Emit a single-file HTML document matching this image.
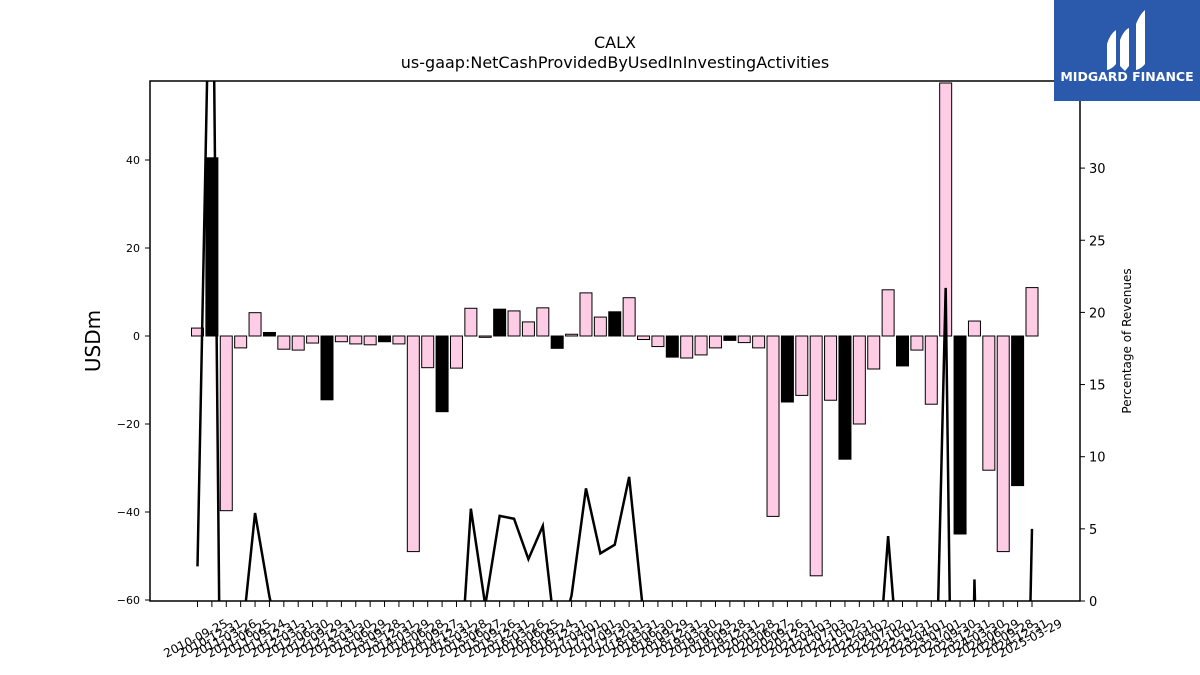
<!DOCTYPE html>
<html><head><meta charset="utf-8"><style>
html,body{margin:0;background:#fff;overflow:hidden;width:1200px;height:675px;}
svg{display:block;}
svg text{font-family:"DejaVu Sans","Liberation Sans",sans-serif;}
</style></head><body>
<svg id="chart" width="1200" height="675" viewBox="0 0 1200 675" xmlns="http://www.w3.org/2000/svg">
<rect width="1200" height="675" fill="#fff"/>
<text x="615" y="48" text-anchor="middle" font-size="16">CALX</text>
<text x="615" y="68" text-anchor="middle" font-size="16">us-gaap:NetCashProvidedByUsedInInvestingActivities</text>
<text transform="translate(100,341) rotate(-90)" text-anchor="middle" font-size="20">USDm</text>
<text transform="translate(1131,341) rotate(-90)" text-anchor="middle" font-size="12">Percentage of Revenues</text>
<defs><clipPath id="pc"><rect x="150" y="81" width="930" height="520"/></clipPath></defs>
<g id="bars" clip-path="url(#pc)"></g>
<g id="line" clip-path="url(#pc)"></g>
<g id="axes"></g>
<g>
<rect x="1054" y="0" width="146" height="101" fill="#2b5aad"/>
<path d="M1107 44 q3-10 9-14 v34 q-4 5-9 6z M1120 40 q4-10 9-12 v38 l-4 5 -5-5z M1136 24 q4-10 9-14 v54 q-4 5-9 6z" fill="#fff"/>
<text x="1127" y="81" text-anchor="middle" font-size="12.5" font-weight="bold" fill="#fff">MIDGARD FINANCE</text>
</g>
</svg>
<script>
const dates=["2010-09-25","2010-12-31","2011-03-26","2011-06-25","2011-09-24","2011-12-31","2012-03-31","2012-06-30","2012-09-29","2012-12-31","2013-03-30","2013-06-29","2013-09-28","2013-12-31","2014-03-29","2014-06-28","2014-09-27","2014-12-31","2015-03-28","2015-06-27","2015-09-26","2015-12-31","2016-03-26","2016-06-25","2016-09-24","2016-12-31","2017-04-01","2017-07-01","2017-09-30","2017-12-31","2018-03-31","2018-06-30","2018-09-29","2018-12-31","2019-03-30","2019-06-29","2019-09-28","2019-12-31","2020-03-28","2020-06-27","2020-09-26","2020-12-31","2021-04-03","2021-07-03","2021-10-02","2021-12-31","2022-04-02","2022-07-02","2022-10-01","2022-12-31","2023-04-01","2023-07-01","2023-09-30","2023-12-31","2024-03-30","2024-06-29","2024-09-28","2024-12-31","2025-03-29"];
const values=[1.8,40.5,-39.7,-2.7,5.3,0.8,-3,-3.2,-1.6,-14.5,-1.3,-1.8,-2,-1.3,-1.8,-49,-7.2,-17.2,-7.3,6.3,-0.3,6.1,5.7,3.2,6.4,-2.8,0.4,9.8,4.3,5.5,8.7,-0.8,-2.4,-4.8,-5,-4.3,-2.7,-1,-1.5,-2.7,-41,-15,-13.5,-54.5,-14.6,-28,-20,-7.5,10.5,-6.8,-3.2,-15.5,57.5,-45,3.4,-30.5,-49,-34,11];
const pct=[2.4,53,-52,-3.5,6.1,0.3,-4,-4.2,-2,-19,-1.7,-2.3,-2.6,-1.7,-2.3,-63,-9,-22,-9,6.4,-0.3,5.9,5.7,2.9,5.2,-3.5,0.4,7.8,3.3,3.9,8.6,-1,-3,-6,-6.5,-5.5,-3.5,-1.3,-2,-3.5,-50,-18,-16,-65,-17,-33,-24,-9,4.5,-8,-4,-20,21.7,-55,1.5,-38,-60,-42,5.0];
const leftTicks=[-60,-40,-20,0,20,40];
const rightTicks=[0,5,10,15,20,25,30];
const NS="http://www.w3.org/2000/svg";
function mk(t,a,p){const e=document.createElementNS(NS,t);for(const k in a)e.setAttribute(k,a[k]);p.appendChild(e);return e;}
const x0=150,x1=1080,yT=81,yB=601;
const xs=i=>197.5+i*(1032-197.5)/(dates.length-1);
const yL=v=>336-v*4.4;
const yR=v=>601-v*14.43;
const bars=document.getElementById('bars'),line=document.getElementById('line'),axes=document.getElementById('axes');
values.forEach((v,i)=>{
 const y=Math.min(yL(v),yL(0)),h=Math.abs(yL(v)-yL(0));
 const r=mk('rect',{x:xs(i)-6,y:y,width:12,height:Math.max(h,0.5),fill:(i%4==1)?'#000':'#ffcce6',stroke:'#000','stroke-width':1},bars);
 
 
});
const pl=mk('polyline',{points:pct.map((v,i)=>xs(i)+','+yR(v)).join(' '),fill:'none',stroke:'#000','stroke-width':2.5},line);


const fr=mk('rect',{x:x0,y:yT,width:x1-x0,height:yB-yT,fill:'none',stroke:'#000','stroke-width':1.5},axes);


leftTicks.forEach(t=>{
 const y=yL(t);
 mk('line',{x1:x0-5,x2:x0,y1:y,y2:y,stroke:'#000'},axes);
 const tx=mk('text',{x:x0-10,y:y+4,'text-anchor':'end','font-size':11},axes);
 tx.textContent=t<0?'\u2212'+(-t):t;
 
 
});
rightTicks.forEach(t=>{
 const y=yR(t);
 mk('line',{x1:x1,x2:x1+5,y1:y,y2:y,stroke:'#000'},axes);
 const tx=mk('text',{x:x1+9,y:y+5,'font-size':13},axes);
 tx.textContent=t;
 
 
});
dates.forEach((d,i)=>{
 const x=xs(i);
 mk('line',{x1:x,x2:x,y1:yB,y2:yB+6,stroke:'#000'},axes);
 const tx=mk('text',{transform:'translate('+x+',642) rotate(-27)','text-anchor':'middle','font-size':12},axes);
 tx.textContent=d;
 
 
});
</script>
</body></html>
